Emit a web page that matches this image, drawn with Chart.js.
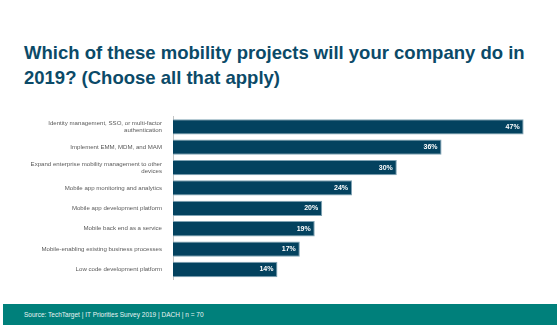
<!DOCTYPE html>
<html>
<head>
<meta charset="utf-8">
<script src="https://cdn.jsdelivr.net/npm/chart.js@4.4.0/dist/chart.umd.min.js"></script>
<style>
  body { margin: 0; width: 560px; height: 336px; background: #fff; position: relative; overflow: hidden; font-family: "Liberation Sans", Arial, sans-serif; }
  #title { position: absolute; left: 24px; top: 40px; font-size: 18.5px; font-weight: bold; color: #0b4a68; line-height: 25px; white-space: nowrap; }
  #wrap { position: absolute; left: 0; top: 110px; width: 560px; height: 180px; }
  #footer { position: absolute; left: 3px; top: 304px; width: 554px; height: 21px; background: #00807b; color: #e8f4f3; font-size: 6.5px; line-height: 21px; }
  #footer span { margin-left: 21px; }
</style>
</head>
<body>
<div id="title">Which of these mobility projects will your company do in<br>2019? (Choose all that apply)</div>
<div id="wrap"><canvas id="chart"></canvas></div>
<div id="footer"><span>Source: TechTarget | IT Priorities Survey 2019 | DACH | n = 70</span></div>
<script>
const categories = [
  ["Identity management, SSO, or multi-factor", "authentication"],
  "Implement EMM, MDM, and MAM",
  ["Expand enterprise mobility management to other", "devices"],
  "Mobile app monitoring and analytics",
  "Mobile app development platform",
  "Mobile back end as a service",
  "Mobile-enabling existing business processes",
  "Low code development platform"
];
const values = [47, 36, 30, 24, 20, 19, 17, 14];

// white percentage labels at the inner end of each bar
const valueLabels = {
  id: "valueLabels",
  afterDatasetsDraw(chart) {
    const ctx = chart.ctx;
    const meta = chart.getDatasetMeta(0);
    ctx.save();
    ctx.fillStyle = "#ffffff";
    ctx.font = "bold 7px 'Liberation Sans', Arial, sans-serif";
    ctx.textAlign = "right";
    ctx.textBaseline = "middle";
    meta.data.forEach((bar, i) => {
      ctx.fillText(values[i] + "%", bar.x - 4, bar.y);
    });
    ctx.restore();
  }
};

new Chart(document.getElementById("chart"), {
  type: "bar",
  data: {
    labels: categories,
    datasets: [{
      data: values,
      backgroundColor: "#03425f",
      borderColor: "#7fa3b4",
      borderWidth: 1,
      barPercentage: 0.75,
      categoryPercentage: 1
    }]
  },
  options: {
    indexAxis: "y",
    responsive: true,
    maintainAspectRatio: false,
    animation: false,
    layout: { padding: { top: 6, bottom: 3, right: 14, left: 0 } },
    plugins: { legend: { display: false }, tooltip: { enabled: false } },
    scales: {
      x: { display: false, min: 0, max: 50 },
      y: {
        afterFit(scale) { scale.width = 173; },
        grid: { display: false },
        border: { display: true, color: "#c4c4c4" },
        ticks: {
          color: "#5a5a5a",
          padding: 3,
          font: { size: 6.1, family: "'Liberation Sans', Arial, sans-serif", lineHeight: 1.2 }
        }
      }
    }
  },
  plugins: [valueLabels]
});
</script>
</body>
</html>
